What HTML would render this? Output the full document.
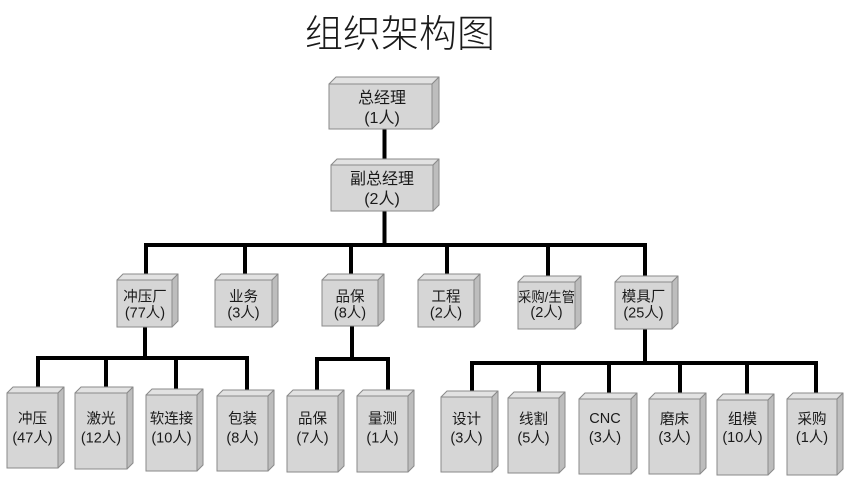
<!DOCTYPE html>
<html>
<head>
<meta charset="utf-8">
<style>
  html,body{margin:0;padding:0;background:#fff;}
  svg{display:block;}
  .t{font-family:"Liberation Sans","Noto Sans CJK SC",sans-serif;fill:#1a1a1a;text-anchor:middle;}
  .f{fill:#d6d6d6;stroke:#8a8a8a;stroke-width:1;}
  .tp{fill:#e2e2e2;stroke:#8a8a8a;stroke-width:1;stroke-linejoin:round;}
  .sd{fill:#bdbdbd;stroke:#8a8a8a;stroke-width:1;stroke-linejoin:round;}
  .ln{fill:none;stroke:#000;stroke-width:4;stroke-linejoin:miter;stroke-linecap:butt;}
</style>
</head>
<body>
<svg width="850" height="501" viewBox="0 0 850 501" xmlns="http://www.w3.org/2000/svg">
  <text x="400" y="47" class="t" style="font-family:'Liberation Sans','Noto Sans CJK SC',sans-serif;font-size:38px;font-weight:300;">组织架构图</text>

  <!-- connectors -->
  <path class="ln" d="M384.5,129 V159"/>
  <path class="ln" d="M384.5,211 V245"/>
  <path class="ln" d="M146,274 V245 H645 V276"/>
  <path class="ln" d="M245,245 V274"/>
  <path class="ln" d="M351,245 V274"/>
  <path class="ln" d="M447,245 V274"/>
  <path class="ln" d="M548,245 V276"/>

  <path class="ln" d="M145,327 V358"/>
  <path class="ln" d="M38,387 V358 H247 V390"/>
  <path class="ln" d="M106,358 V387"/>
  <path class="ln" d="M176,358 V389"/>

  <path class="ln" d="M352,326 V359"/>
  <path class="ln" d="M317,390 V359 H388 V390"/>

  <path class="ln" d="M645,329 V363"/>
  <path class="ln" d="M472,391 V363 H816 V393"/>
  <path class="ln" d="M539,363 V392"/>
  <path class="ln" d="M609,363 V393"/>
  <path class="ln" d="M680,363 V393"/>
  <path class="ln" d="M747,363 V394"/>

  <!-- 总经理 -->
  <polygon class="tp" points="329,84 336,77 439,77 432,84"/>
  <polygon class="sd" points="432,84 439,77 439,122 432,129"/>
  <rect class="f" x="329" y="84" width="103" height="45"/>
  <text class="t" x="382" y="103" font-size="16">总经理</text>
  <text class="t" x="382" y="123" font-size="16">(1人)</text>

  <!-- 副总经理 -->
  <polygon class="tp" points="331,165 337,159 439,159 433,165"/>
  <polygon class="sd" points="433,165 439,159 439,205 433,211"/>
  <rect class="f" x="331" y="165" width="102" height="46"/>
  <text class="t" x="382" y="184" font-size="16">副总经理</text>
  <text class="t" x="382" y="204" font-size="16">(2人)</text>

  <!-- Level 2 -->
  <polygon class="tp" points="117,280 123,274 178,274 172,280"/>
  <polygon class="sd" points="172,280 178,274 178,321 172,327"/>
  <rect class="f" x="117" y="280" width="55" height="47"/>
  <text class="t" x="145" y="301.5" font-size="14.5">冲压厂</text>
  <text class="t" x="145" y="317.5" font-size="14.5">(77人)</text>

  <polygon class="tp" points="215,280 221,274 278,274 272,280"/>
  <polygon class="sd" points="272,280 278,274 278,321 272,327"/>
  <rect class="f" x="215" y="280" width="57" height="47"/>
  <text class="t" x="243.5" y="301.5" font-size="14.5">业务</text>
  <text class="t" x="243.5" y="317.5" font-size="14.5">(3人)</text>

  <polygon class="tp" points="322,280 328,274 384,274 378,280"/>
  <polygon class="sd" points="378,280 384,274 384,320 378,326"/>
  <rect class="f" x="322" y="280" width="56" height="46"/>
  <text class="t" x="350" y="301.5" font-size="14.5">品保</text>
  <text class="t" x="350" y="317.5" font-size="14.5">(8人)</text>

  <polygon class="tp" points="418,280 424,274 480,274 474,280"/>
  <polygon class="sd" points="474,280 480,274 480,321 474,327"/>
  <rect class="f" x="418" y="280" width="56" height="47"/>
  <text class="t" x="446" y="301.5" font-size="14.5">工程</text>
  <text class="t" x="446" y="317.5" font-size="14.5">(2人)</text>

  <polygon class="tp" points="518,282 524,276 581,276 575,282"/>
  <polygon class="sd" points="575,282 581,276 581,323 575,329"/>
  <rect class="f" x="518" y="282" width="57" height="47"/>
  <text class="t" x="546.5" y="302" font-size="14" textLength="57" lengthAdjust="spacingAndGlyphs">采购/生管</text>
  <text class="t" x="546.5" y="317" font-size="14.5">(2人)</text>

  <polygon class="tp" points="615,282 621,276 678,276 672,282"/>
  <polygon class="sd" points="672,282 678,276 678,323 672,329"/>
  <rect class="f" x="615" y="282" width="57" height="47"/>
  <text class="t" x="643.5" y="301.5" font-size="14.5">模具厂</text>
  <text class="t" x="643.5" y="317.5" font-size="14.5">(25人)</text>

  <!-- Level 3 -->
  <polygon class="tp" points="7,393 13,387 64,387 58,393"/>
  <polygon class="sd" points="58,393 64,387 64,462 58,468"/>
  <rect class="f" x="7" y="393" width="51" height="75"/>
  <text class="t" x="32.5" y="423.5" font-size="14.5">冲压</text>
  <text class="t" x="32.5" y="442.5" font-size="14.5">(47人)</text>

  <polygon class="tp" points="75,393 81,387 133,387 127,393"/>
  <polygon class="sd" points="127,393 133,387 133,463 127,469"/>
  <rect class="f" x="75" y="393" width="52" height="76"/>
  <text class="t" x="101" y="423.5" font-size="14.5">激光</text>
  <text class="t" x="101" y="442.5" font-size="14.5">(12人)</text>

  <polygon class="tp" points="146,395 152,389 203,389 197,395"/>
  <polygon class="sd" points="197,395 203,389 203,465 197,471"/>
  <rect class="f" x="146" y="395" width="51" height="76"/>
  <text class="t" x="171.5" y="423.5" font-size="14.5">软连接</text>
  <text class="t" x="171.5" y="442.5" font-size="14.5">(10人)</text>

  <polygon class="tp" points="217,396 223,390 274,390 268,396"/>
  <polygon class="sd" points="268,396 274,390 274,465 268,471"/>
  <rect class="f" x="217" y="396" width="51" height="75"/>
  <text class="t" x="242.5" y="423.5" font-size="14.5">包装</text>
  <text class="t" x="242.5" y="442.5" font-size="14.5">(8人)</text>

  <polygon class="tp" points="287,396 293,390 344,390 338,396"/>
  <polygon class="sd" points="338,396 344,390 344,466 338,472"/>
  <rect class="f" x="287" y="396" width="51" height="76"/>
  <text class="t" x="312.5" y="423.5" font-size="14.5">品保</text>
  <text class="t" x="312.5" y="442.5" font-size="14.5">(7人)</text>

  <polygon class="tp" points="357,396 363,390 414,390 408,396"/>
  <polygon class="sd" points="408,396 414,390 414,466 408,472"/>
  <rect class="f" x="357" y="396" width="51" height="76"/>
  <text class="t" x="382.5" y="423.5" font-size="14.5">量测</text>
  <text class="t" x="382.5" y="442.5" font-size="14.5">(1人)</text>

  <polygon class="tp" points="441,397 447,391 498,391 492,397"/>
  <polygon class="sd" points="492,397 498,391 498,466 492,472"/>
  <rect class="f" x="441" y="397" width="51" height="75"/>
  <text class="t" x="466.5" y="424" font-size="14.5">设计</text>
  <text class="t" x="466.5" y="442.5" font-size="14.5">(3人)</text>

  <polygon class="tp" points="508,398 514,392 565,392 559,398"/>
  <polygon class="sd" points="559,398 565,392 565,467 559,473"/>
  <rect class="f" x="508" y="398" width="51" height="75"/>
  <text class="t" x="533.5" y="424" font-size="14.5">线割</text>
  <text class="t" x="533.5" y="442.5" font-size="14.5">(5人)</text>

  <polygon class="tp" points="579,399 585,393 637,393 631,399"/>
  <polygon class="sd" points="631,399 637,393 637,468 631,474"/>
  <rect class="f" x="579" y="399" width="52" height="75"/>
  <text class="t" x="605" y="423" font-size="14.5">CNC</text>
  <text class="t" x="605" y="442" font-size="14.5">(3人)</text>

  <polygon class="tp" points="649,399 655,393 706,393 700,399"/>
  <polygon class="sd" points="700,399 706,393 706,468 700,474"/>
  <rect class="f" x="649" y="399" width="51" height="75"/>
  <text class="t" x="674.5" y="424" font-size="14.5">磨床</text>
  <text class="t" x="674.5" y="442" font-size="14.5">(3人)</text>

  <polygon class="tp" points="717,400 723,394 774,394 768,400"/>
  <polygon class="sd" points="768,400 774,394 774,469 768,475"/>
  <rect class="f" x="717" y="400" width="51" height="75"/>
  <text class="t" x="742.5" y="424" font-size="14.5">组模</text>
  <text class="t" x="742.5" y="442" font-size="14.5">(10人)</text>

  <polygon class="tp" points="787,399 793,393 843,393 837,399"/>
  <polygon class="sd" points="837,399 843,393 843,469 837,475"/>
  <rect class="f" x="787" y="399" width="50" height="76"/>
  <text class="t" x="812" y="424" font-size="14.5">采购</text>
  <text class="t" x="812" y="442" font-size="14.5">(1人)</text>
</svg>
</body>
</html>
